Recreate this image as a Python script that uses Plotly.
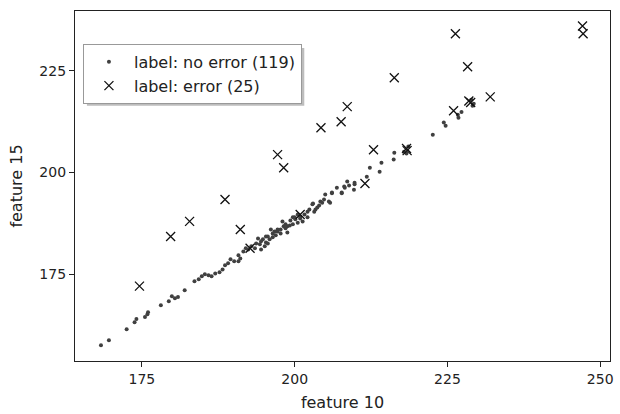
import plotly.graph_objects as go

# ---- data (feature 10, feature 15) ----
ok_f10 = [168.3, 169.6, 172.5, 173.8, 174.1, 175.5, 175.9, 176.0, 178.1, 179.4,
          179.9, 180.4, 180.9, 182.0, 183.6, 184.3, 184.8, 185.3, 185.9, 186.4,
          187.0, 187.7, 188.2, 188.6, 189.1, 190.1, 190.8, 191.1, 191.6, 192.0,
          192.9, 193.5, 194.0, 194.5, 194.5, 194.8, 195.1, 195.3, 195.6, 195.9,
          196.1, 196.4, 196.7, 197.2, 197.2, 197.7, 197.7, 198.0, 198.2, 198.8,
          198.8, 199.3, 199.7, 199.7, 200.0, 200.5, 200.9, 200.9, 201.3, 201.6,
          202.1, 202.1, 202.9, 203.0, 203.2, 203.4, 204.0, 204.2, 204.5, 205.0,
          205.6, 205.8, 206.1, 206.1, 206.9, 207.7, 207.7, 208.1, 208.2, 208.6,
          209.7, 209.8, 209.8, 211.8, 212.3, 213.9, 214.2, 216.2, 216.3, 218.3,
          217.9, 218.6, 222.6, 224.4, 224.7, 226.7, 226.8, 227.3, 229.1, 228.9,
          229.3, 194.3, 195.3, 196.4, 196.9, 198.5, 199.2, 200.1, 200.5, 198.5,
          195.6, 193.7, 192.4, 190.8, 189.5, 202.4, 203.7, 204.8, 208.9]
ok_f15 = [157.6, 158.8, 161.5, 163.2, 164.0, 164.5, 165.2, 165.7, 167.4, 168.4,
          169.6, 169.1, 169.4, 171.1, 173.3, 173.8, 174.5, 175.0, 174.8, 174.5,
          175.2, 175.5, 176.2, 177.2, 177.7, 178.2, 178.2, 178.9, 180.6, 181.4,
          181.9, 181.4, 183.8, 183.1, 181.1, 183.6, 181.9, 184.3, 184.3, 183.6,
          186.0, 185.0, 185.5, 186.0, 185.5, 185.0, 186.0, 188.0, 186.8, 185.3,
          186.8, 188.2, 187.3, 189.0, 189.0, 187.7, 189.2, 188.7, 188.0, 189.7,
          189.0, 190.4, 192.2, 192.4, 190.4, 190.9, 191.9, 192.9, 192.6, 194.6,
          192.9, 192.6, 194.9, 195.1, 196.3, 195.1, 194.9, 196.6, 196.3, 197.8,
          195.8, 197.1, 197.5, 199.0, 201.2, 200.2, 202.4, 203.2, 204.9, 204.7,
          205.1, 206.4, 209.3, 212.3, 211.5, 214.2, 213.5, 214.9, 216.4, 217.9,
          216.9, 182.4, 182.8, 184.1, 184.6, 186.3, 187.0, 188.5, 189.7, 187.3,
          182.6, 182.6, 181.1, 179.7, 178.7, 190.9, 191.4, 193.4, 196.8]

err_f10 = [174.6, 179.7, 182.8, 188.6, 191.1, 197.2, 198.2, 200.9, 204.3, 207.6,
           208.6, 211.5, 212.9, 216.3, 218.3, 218.4, 226.3, 226.0, 228.3, 228.8,
           228.5, 232.0, 247.1, 247.2, 192.7]
err_f15 = [172.1, 184.3, 188.0, 193.4, 186.0, 204.4, 201.2, 189.7, 211.0, 212.5,
           216.2, 197.3, 205.6, 223.3, 205.9, 205.4, 234.1, 215.2, 226.0, 217.2,
           217.6, 218.6, 236.0, 234.1, 181.4]

x_ticks = [175, 200, 225, 250]
y_ticks = [175, 200, 225]
x_range = [164.05, 251.6]
y_range = [153.7, 239.7]

FONT = "DejaVu Sans"
TXT = "#222222"

fig = go.Figure()
fig.add_trace(go.Scatter(
    x=ok_f10, y=ok_f15, mode="markers",
    name=f"label: no error ({len(ok_f10)})",
    marker=dict(symbol="circle", size=4, color="#404040", line=dict(width=0)),
))
fig.add_trace(go.Scatter(
    x=err_f10, y=err_f15, mode="markers",
    name=f"label: error ({len(err_f10)})",
    marker=dict(symbol="x-thin", size=9, color="#111111",
                line=dict(width=1.3, color="#111111")),
))

axis_common = dict(
    showline=True, linecolor="#222222", linewidth=1.2, mirror=True,
    ticks="outside", ticklen=5, tickwidth=1, tickcolor="#222222",
    showgrid=False, zeroline=False,
    tickfont=dict(family=FONT, size=14, color=TXT),
)
fig.update_xaxes(range=x_range, tickvals=x_ticks,
                 title=dict(text="feature 10", font=dict(family=FONT, size=16, color=TXT), standoff=10),
                 **axis_common)
fig.update_yaxes(range=y_range, tickvals=y_ticks,
                 title=dict(text="feature 15", font=dict(family=FONT, size=16, color=TXT), standoff=12),
                 **axis_common)

# legend shadow (offset gray box behind the legend)
fig.add_shape(type="rect", xref="paper", yref="paper",
              x0=(87 - 75) / 539, x1=(306 - 75) / 539,
              y0=1 - (106 - 11) / 351, y1=1 - (48 - 11) / 351,
              fillcolor="#bdbdbd", line=dict(width=0), layer="above")

fig.update_layout(
    width=620, height=414,
    margin=dict(l=75, r=6, t=11, b=52),
    plot_bgcolor="white", paper_bgcolor="white",
    font=dict(family=FONT, size=16, color=TXT),
    showlegend=True,
    legend=dict(x=(83 - 75) / 539, y=1 - (44 - 11) / 351, xanchor="left", yanchor="top",
                bgcolor="white", bordercolor="#999999", borderwidth=1,
                font=dict(family=FONT, size=16, color=TXT),
                itemwidth=40, tracegroupgap=0),
)

fig.write_html("out.html")
